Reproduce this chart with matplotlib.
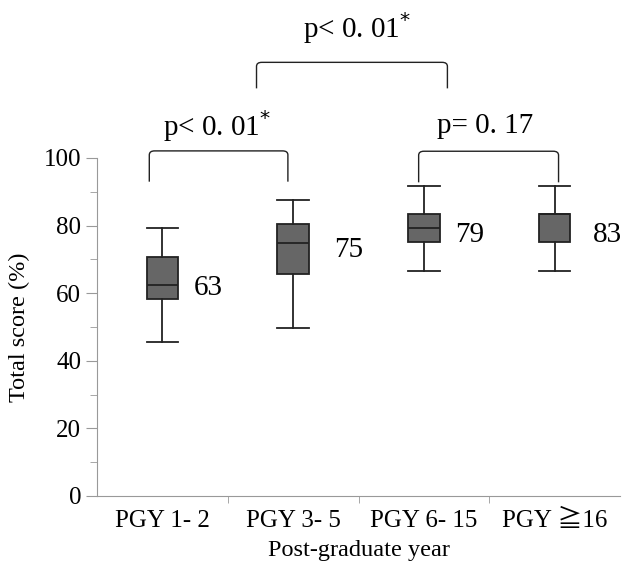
import numpy as np
import matplotlib.pyplot as plt
from matplotlib.path import Path
from matplotlib.patches import PathPatch

# datos del grafico
categorias = ['PGY 1- 2', 'PGY 3- 5', 'PGY 6- 15', 'PGY \u226716']
bigote_bajo = [45.6, 49.8, 66.6, 66.6]
q1 = [58.2, 65.7, 75.1, 75.1]
mediana = [62.4, 74.9, 79.2, 83.3]
q3 = [70.8, 80.4, 83.3, 83.3]
bigote_alto = [79.2, 87.5, 91.7, 91.7]
etiquetas = ['63', '75', '79', '83']
etiqueta_y = [61.5, 72.8, 77.2, 77.2]
etiqueta_dx = [0.24, 0.31, 0.24, 0.29]

plt.rcParams['font.family'] = ['Liberation Serif', 'Noto Sans CJK JP', 'DejaVu Serif']

fig = plt.figure(figsize=(6.23, 5.64), dpi=100)
ax = fig.add_axes([97/623, (564-496)/564, (620-97)/623, (496-158)/564])

stats = []
for i in range(len(categorias)):
    stats.append(dict(whislo=bigote_bajo[i], q1=q1[i], med=mediana[i],
                      q3=q3[i], whishi=bigote_alto[i], fliers=[]))

pos = np.arange(1, len(categorias) + 1)
ax.bxp(stats, positions=pos, widths=0.24, patch_artist=True, showfliers=False,
       boxprops=dict(facecolor='#666666', edgecolor='#222222', linewidth=1.3),
       medianprops=dict(color='#222222', linewidth=1.3),
       whiskerprops=dict(color='#222222', linewidth=1.3),
       capprops=dict(color='#222222', linewidth=1.3),
       capwidths=0.24)

# numeros al lado de las cajas
for i in range(len(categorias)):
    ax.text(pos[i] + etiqueta_dx[i], etiqueta_y[i], etiquetas[i], fontsize=21,
            va='center', ha='left')

ax.set_xlim(0.5, 4.5)
ax.set_ylim(0, 100)
ax.set_yticks([0, 20, 40, 60, 80, 100])
ax.set_yticks([10, 30, 50, 70, 90], minor=True)
ax.set_xticks(pos)
ax.set_xticklabels(categorias, fontsize=18)
ax.set_xticks([1.5, 2.5, 3.5], minor=True)
ax.tick_params(axis='x', which='major', length=0, pad=10)
ax.tick_params(axis='x', which='minor', length=5, color='#999999')
ax.tick_params(axis='y', which='major', length=8, color='#999999', labelsize=18)
ax.tick_params(axis='y', which='minor', length=5, color='#999999')
ax.spines['top'].set_visible(False)
ax.spines['right'].set_visible(False)
ax.spines['left'].set_color('#999999')
ax.spines['bottom'].set_color('#999999')
ax.set_xlabel('Post-graduate year', fontsize=17.5, labelpad=6)
ax.set_ylabel('Total score (%)', fontsize=17.5, labelpad=10)

# corchetes de comparacion
def corchete(x1, x2, yb, yt, r=0.04, ry=1.2):
    verts = [(x1, yb), (x1, yt - ry), (x1, yt), (x1 + r, yt),
             (x2 - r, yt), (x2, yt), (x2, yt - ry), (x2, yb)]
    codes = [Path.MOVETO, Path.LINETO, Path.CURVE3, Path.CURVE3,
             Path.LINETO, Path.CURVE3, Path.CURVE3, Path.LINETO]
    ax.add_patch(PathPatch(Path(verts, codes), fill=False, lw=1.0,
                           edgecolor='#222222', clip_on=False))

corchete(0.90, 1.96, 93.0, 102.1)
corchete(2.96, 4.03, 92.8, 102.0)
corchete(1.72, 3.18, 120.6, 128.3)

ax.text(1.42, 109.5, 'p< 0. 01$^{*}$', fontsize=21, ha='center', va='center')
ax.text(3.47, 109.5, 'p= 0. 17', fontsize=21, ha='center', va='center')
ax.text(2.49, 138.5, 'p< 0. 01$^{*}$', fontsize=21, ha='center', va='center')

fig.savefig('out.png', dpi=100)
